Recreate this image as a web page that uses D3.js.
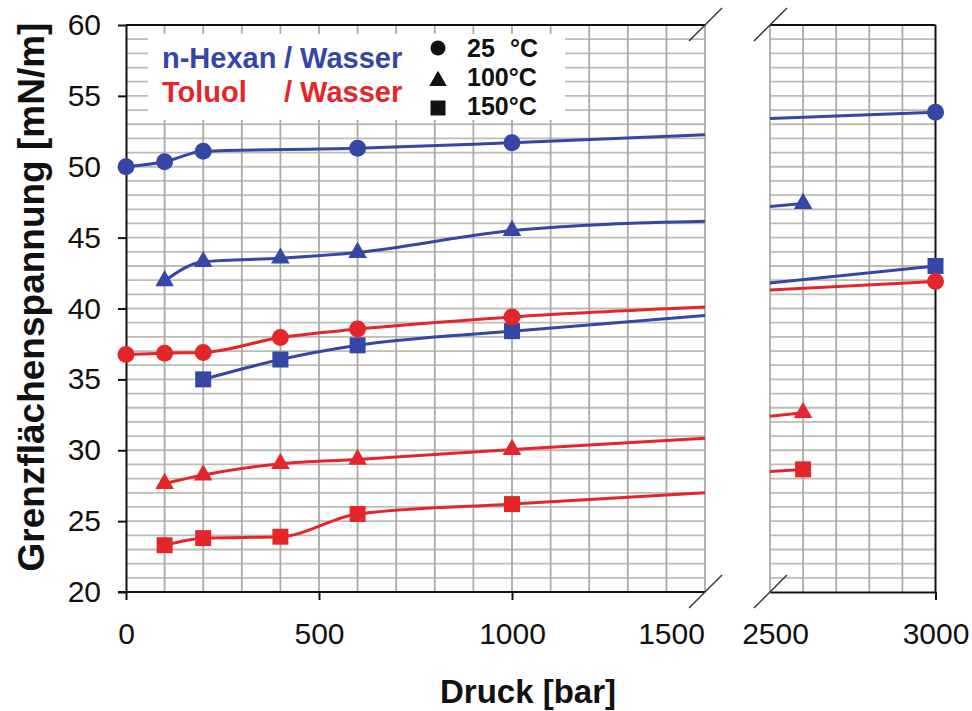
<!DOCTYPE html>
<html>
<head>
<meta charset="utf-8">
<script src="https://cdn.jsdelivr.net/npm/d3@7"></script>
<style>
  html, body { margin: 0; padding: 0; background: #fff; }
  svg { display: block; font-family: "Liberation Sans", Arial, Helvetica, sans-serif; }
</style>
</head>
<body>
<svg id="chart" width="972" height="711"></svg>
<script>
// Interfacial tension vs. pressure, [pressure (bar), tension (mN/m)] pairs
const hexan25  = [[0, 50.0], [100, 50.35], [200, 51.1], [600, 51.3], [1000, 51.7], [3000, 53.85]];
const hexan100 = [[100, 41.95], [200, 43.3], [400, 43.55], [600, 43.95], [1000, 45.5], [2600, 47.4]];
const hexan150 = [[200, 35.0], [400, 36.4], [600, 37.4], [1000, 38.4], [3000, 43.0]];
const toluol25  = [[0, 36.75], [100, 36.85], [200, 36.9], [400, 37.95], [600, 38.55], [1000, 39.4], [3000, 41.9]];
const toluol100 = [[100, 27.65], [200, 28.25], [400, 29.05], [600, 29.35], [1000, 30.05], [2600, 32.65]];
const toluol150 = [[100, 23.3], [200, 23.8], [400, 23.9], [600, 25.5], [1000, 26.2], [2600, 28.65]];

// Fitted curve values at the edges of the axis break (1500 bar and 2500 bar)
const hexan25Fit   = [[1500, 52.25], [2500, 53.4]];
const hexan100Fit  = [[1500, 46.15], [2500, 47.2]];
const hexan150Fit  = [[1500, 39.5],  [2500, 41.8]];
const toluol25Fit  = [[1500, 40.1],  [2500, 41.3]];
const toluol100Fit = [[1500, 30.85], [2500, 32.4]];
const toluol150Fit = [[1500, 27.0],  [2500, 28.5]];

// Axis ticks
const yTicks = [20, 25, 30, 35, 40, 45, 50, 55, 60];
const xTicksLeft = [0, 500, 1000, 1500];
const xTicksRight = [2500, 3000];

// Legend labels
const systemLabels = [["n-Hexan", "/ Wasser"], ["Toluol", "/ Wasser"]];
const tempLabels = ["25", "100°C", "150°C"];

const blue = "#3446a6";
const red = "#e4262b";
const gridColor = "#bdbdb6";

const svg = d3.select("#chart");

const y = d3.scaleLinear().domain([20, 60]).range([592, 25]);
const xL = d3.scaleLinear().domain([0, 1500]).range([126, 705]);
const xR = d3.scaleLinear().domain([2500, 3000]).range([770, 935.5]);
const xOf = p => (p <= 1500 ? xL(p) : xR(p));

// ---- grid ----
const grid = svg.append("g");
const yGrid = d3.range(21, 60, 1);
[[xL, d3.range(100, 1501, 100)], [xR, d3.range(2500, 3000, 100)]].forEach(([xs, vx]) => {
  grid.selectAll(null).data(yGrid).join("line")
    .attr("x1", xs.range()[0]).attr("x2", xs.range()[1])
    .attr("y1", d => y(d)).attr("y2", d => y(d))
    .attr("stroke", gridColor).attr("stroke-width", 1.8);
  grid.selectAll(null).data(vx).join("line")
    .attr("x1", d => xs(d)).attr("x2", d => xs(d))
    .attr("y1", y(20)).attr("y2", y(60))
    .attr("stroke", "#aaaaa6").attr("stroke-width", 1.8);
});

// ---- axes ----
const fmt = d3.format("d");
const axisG = svg.append("g");
const yAxis = axisG.append("g").attr("transform", `translate(${xL(0)},0)`)
  .call(d3.axisLeft(y).tickValues(yTicks).tickFormat(fmt).tickSize(8).tickPadding(17).tickSizeOuter(0));
const xAxisL = axisG.append("g").attr("transform", `translate(0,${y(20)})`)
  .call(d3.axisBottom(xL).tickValues(xTicksLeft).tickFormat(fmt).tickSize(8).tickPadding(23).tickSizeOuter(0));
const xAxisR = axisG.append("g").attr("transform", `translate(0,${y(20)})`)
  .call(d3.axisBottom(xR).tickValues(xTicksRight).tickFormat(fmt).tickSize(8).tickPadding(23).tickSizeOuter(0));

[yAxis, xAxisL, xAxisR].forEach(a => {
  a.selectAll(".domain").attr("stroke", "#111").attr("stroke-width", 2);
  a.selectAll(".tick line").attr("stroke", "#111").attr("stroke-width", 2);
  a.selectAll(".tick text").attr("font-size", 30).attr("fill", "#111")
    .attr("font-family", "\"Liberation Sans\", Arial, sans-serif");
});
// break edges carry no tick; their labels sit beside the break
xAxisL.selectAll(".tick").filter(d => d === 1500).select("line").remove();
xAxisR.selectAll(".tick").filter(d => d === 2500).select("line").remove();
xAxisL.selectAll(".tick").filter(d => d === 1500).select("text").attr("dx", -34);
xAxisR.selectAll(".tick").filter(d => d === 2500).select("text").attr("dx", 5);
// extend x axis to the y tick at 20
xAxisL.select(".domain").attr("d", `M${xL(0) - 8},0H${xL(1500)}`);

// top borders and right border
axisG.append("line").attr("x1", xL(0)).attr("x2", xL(1500)).attr("y1", y(60)).attr("y2", y(60))
  .attr("stroke", "#111").attr("stroke-width", 2);
axisG.append("line").attr("x1", xR(2500)).attr("x2", xR(3000)).attr("y1", y(60)).attr("y2", y(60))
  .attr("stroke", "#111").attr("stroke-width", 2);
axisG.append("line").attr("x1", xR(3000)).attr("x2", xR(3000)).attr("y1", y(60)).attr("y2", y(20))
  .attr("stroke", "#111").attr("stroke-width", 2);

// axis break marks
const breaks = [[xL(1500), y(60)], [xR(2500), y(60)], [xL(1500), y(20)], [xR(2500), y(20)]];
axisG.selectAll(null).data(breaks).join("line")
  .attr("x1", d => d[0] - 16).attr("y1", d => d[1] + 16)
  .attr("x2", d => d[0] + 17).attr("y2", d => d[1] - 17)
  .attr("stroke", "#333").attr("stroke-width", 1.5);

// ---- legend box (covers the grid) ----
const leg = svg.append("g");
leg.append("rect").attr("x", 148).attr("y", 34).attr("width", 417).attr("height", 86).attr("fill", "#fff");

// ---- series ----
const series = [
  { pts: hexan25,   fit: hexan25Fit,   color: blue, shape: "circle" },
  { pts: hexan100,  fit: hexan100Fit,  color: blue, shape: "triangle" },
  { pts: hexan150,  fit: hexan150Fit,  color: blue, shape: "square" },
  { pts: toluol25,  fit: toluol25Fit,  color: red,  shape: "circle" },
  { pts: toluol100, fit: toluol100Fit, color: red,  shape: "triangle" },
  { pts: toluol150, fit: toluol150Fit, color: red,  shape: "square" }
];

const symbolType = { circle: d3.symbolCircle, triangle: d3.symbolTriangle, square: d3.symbolSquare };
const symbolOf = {
  circle: d3.symbol().type(d3.symbolCircle).size(Math.PI * 8.5 * 8.5),
  triangle: d3.symbol().type(d3.symbolTriangle).size(150),
  square: d3.symbol().type(d3.symbolSquare).size(16 * 16)
};

const lineL = d3.line().x(d => xL(d[0])).y(d => y(d[1])).curve(d3.curveMonotoneX);
const lineR = d3.line().x(d => xR(d[0])).y(d => y(d[1]));

const plot = svg.append("g");
series.forEach(s => {
  const left = s.pts.filter(d => d[0] <= 1500).concat([s.fit[0]]);
  const right = [s.fit[1]].concat(s.pts.filter(d => d[0] >= 2500));
  plot.append("path").attr("d", lineL(left)).attr("fill", "none")
    .attr("stroke", s.color).attr("stroke-width", 3);
  plot.append("path").attr("d", lineR(right)).attr("fill", "none")
    .attr("stroke", s.color).attr("stroke-width", 3);
});
series.forEach(s => {
  plot.selectAll(null).data(s.pts).join("path")
    .attr("transform", d => `translate(${xOf(d[0])},${y(d[1])})`)
    .attr("d", symbolOf[s.shape]())
    .attr("fill", s.color);
});

// ---- legend content ----
const sysColors = [blue, red];
systemLabels.forEach((lab, i) => {
  const by = 68 + i * 33.5;
  leg.append("text").attr("x", 162).attr("y", by).text(lab[0])
    .attr("font-size", 29).attr("font-weight", "bold").attr("fill", sysColors[i]);
  leg.append("text").attr("x", 284).attr("y", by).text(lab[1])
    .attr("font-size", 29).attr("font-weight", "bold").attr("fill", sysColors[i]);
});
const legShapes = ["circle", "triangle", "square"];
const legSizes = [Math.PI * 7.5 * 7.5, 135, 15 * 15];
const legY = [48, 81, 108];
legShapes.forEach((sh, i) => {
  leg.append("path").attr("transform", `translate(438,${legY[i]})`)
    .attr("d", d3.symbol().type(symbolType[sh]).size(legSizes[i])())
    .attr("fill", "#111");
});
tempLabels.forEach((t, i) => {
  leg.append("text").attr("x", 467).attr("y", 57 + i * 29).text(t)
    .attr("font-size", 25).attr("font-weight", "bold").attr("fill", "#111");
});
// unit of the first temperature, aligned to the right edge of the others
leg.append("text").attr("x", 538).attr("y", 57).attr("text-anchor", "end").text("°C")
  .attr("font-size", 25).attr("font-weight", "bold").attr("fill", "#111");

// ---- axis titles ----
svg.append("text").attr("transform", "translate(44,297) rotate(-90)")
  .attr("text-anchor", "middle").attr("font-size", 37).attr("font-weight", "bold").attr("fill", "#111")
  .text("Grenzflächenspannung [mN/m]");
svg.append("text").attr("x", 528).attr("y", 703)
  .attr("text-anchor", "middle").attr("font-size", 33).attr("font-weight", "bold").attr("fill", "#111")
  .text("Druck [bar]");
</script>
</body>
</html>
